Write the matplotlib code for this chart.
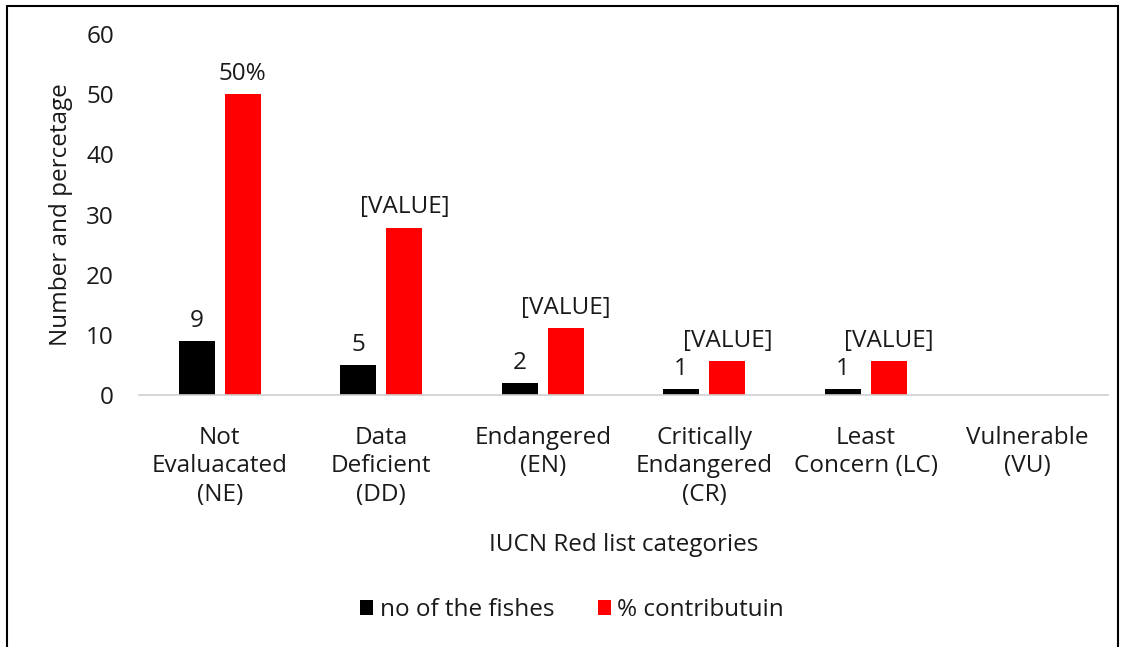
import numpy as np
import matplotlib
matplotlib.use("Agg")
import matplotlib.pyplot as plt
from matplotlib.patches import Rectangle

plt.rcParams["font.family"] = ["Open Sans", "DejaVu Sans"]

categories = ["Not\nEvaluacated\n(NE)", "Data\nDeficient\n(DD)", "Endangered\n(EN)",
              "Critically\nEndangered\n(CR)", "Least\nConcern (LC)", "Vulnerable\n(VU)"]
n_fishes = [9, 5, 2, 1, 1, 0]
pct = [50, 27.8, 11.1, 5.6, 5.6, 0]
pct_labels = ["50%", "[VALUE]", "[VALUE]", "[VALUE]", "[VALUE]", ""]

txt = "#1a1a1a"
fs = 17.5
fig = plt.figure(figsize=(11.28, 6.47), dpi=100)
ax = fig.add_axes([0.1232, 0.3895, 0.8591, 0.5579])

x = np.arange(len(categories))
w = 0.223
off = 0.143
b1 = ax.bar(x - off, n_fishes, w, color="black", label="no of the fishes")
b2 = ax.bar(x + off, pct, w, color="#ff0000", label="% contributuin")

for r, v in zip(b1, n_fishes):
    if v:
        ax.annotate(str(v), (r.get_x() + r.get_width() / 2, v), xytext=(0, 6),
                    textcoords="offset points", ha="center", va="bottom", fontsize=fs, color=txt)
for r, v, lab in zip(b2, pct, pct_labels):
    if lab:
        ax.annotate(lab, (r.get_x() + r.get_width() / 2, v), xytext=(0, 6),
                    textcoords="offset points", ha="center", va="bottom", fontsize=fs, color=txt)

ax.set_xlim(-0.5, len(categories) - 0.5)
ax.set_ylim(0, 60)
ax.set_yticks(range(0, 61, 10))
ax.set_xticks(x)
ax.set_xticklabels(categories, fontsize=fs, color=txt, linespacing=1.25)
ax.tick_params(axis="both", length=0, labelsize=fs, labelcolor=txt)
ax.tick_params(axis="x", pad=22)
ax.tick_params(axis="y", pad=18)
for s in ["top", "right", "left"]:
    ax.spines[s].set_visible(False)
ax.spines["bottom"].set_color("#d0d0d0")
ax.spines["bottom"].set_linewidth(1.2)

ax.set_ylabel("Number and percetage", fontsize=fs, color=txt)
ax.yaxis.set_label_coords(-0.068, 0.5)
fig.text(623.5 / 1128, 1 - 545 / 647, "IUCN Red list categories", ha="center", va="center",
         fontsize=fs, color=txt)

fig.legend(handles=[b1, b2], loc="center", bbox_to_anchor=(572 / 1128, 1 - 610 / 647), ncol=2,
           frameon=False, fontsize=fs, handlelength=0.55, handleheight=0.55, handletextpad=0.25,
           columnspacing=1.8, labelcolor=txt)

fig.patches.append(Rectangle((7 / 1128, -0.01), (1118 - 7) / 1128, 1 - 6 / 647 + 0.01,
                             transform=fig.transFigure, fill=False, edgecolor="black", lw=1.5))

fig.savefig("out.png", dpi=100)
